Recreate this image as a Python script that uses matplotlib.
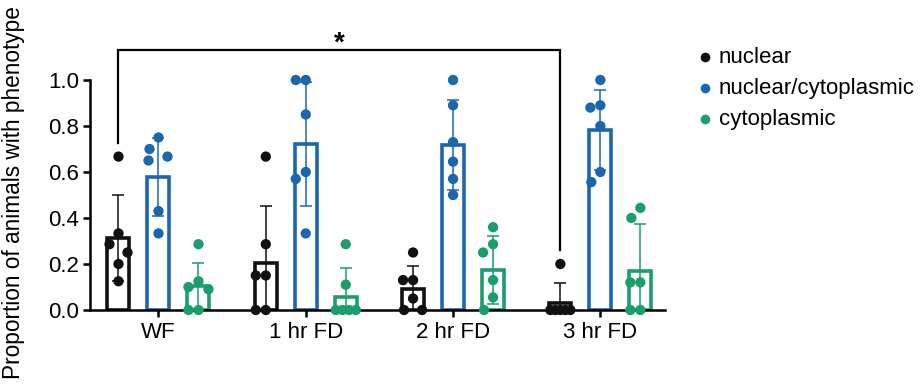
import numpy as np
import matplotlib
matplotlib.use("Agg")
import matplotlib.pyplot as plt

plt.rcParams['font.family'] = ['Liberation Sans', 'DejaVu Sans']

groups = ["WF", "1 hr FD", "2 hr FD", "3 hr FD"]
series = ["nuclear", "nuclear/cytoplasmic", "cytoplasmic"]

# individual animal proportions
nuclear = [
    [0.667, 0.333, 0.286, 0.25, 0.2, 0.125],
    [0.667, 0.286, 0.15, 0.15, 0.0, 0.0],
    [0.25, 0.13, 0.13, 0.05, 0.0, 0.0],
    [0.2, 0.0, 0.0, 0.0, 0.0, 0.0],
]
nuc_cyto = [
    [0.75, 0.7, 0.667, 0.65, 0.43, 0.333],
    [1.0, 1.0, 0.85, 0.6, 0.57, 0.333],
    [1.0, 0.89, 0.73, 0.645, 0.57, 0.5],
    [1.0, 0.89, 0.88, 0.8, 0.6, 0.556],
]
cyto = [
    [0.286, 0.125, 0.1, 0.09, 0.0, 0.0],
    [0.286, 0.11, 0.0, 0.0, 0.0, 0.0],
    [0.36, 0.286, 0.25, 0.13, 0.055, 0.0],
    [0.444, 0.4, 0.12, 0.12, 0.0, 0.0],
]
# bar means and SD
means = [
    [0.312, 0.203, 0.091, 0.029],
    [0.580, 0.722, 0.717, 0.783],
    [0.106, 0.058, 0.174, 0.171],
]
sds = [
    [0.187, 0.250, 0.102, 0.087],
    [0.170, 0.270, 0.196, 0.175],
    [0.100, 0.123, 0.148, 0.202],
]
sig_label = "*"
ylabel = "Proportion of animals with phenotype"

colors = ["#111111", "#1a67ad", "#1a9e6c"]
points = [nuclear, nuc_cyto, cyto]

W, H = 923, 389
fig = plt.figure(figsize=(W / 100, H / 100), dpi=100)
ax = fig.add_axes([90 / W, 1 - 310 / H, (665 - 90) / W, 287.5 / H])

ax.set_xlim(-0.465, 3.439)
ax.set_ylim(0, 1.25)

px_x = 147.3  # pixels per x unit
px_y = 230.0  # pixels per y unit
offs = [-40 / px_x, 0, 40 / px_x]
barw = 22 / px_x


def swarm(vals, d=13.0, step=9.0, maxoff=10.0):
    vals = list(vals)
    order = np.argsort(-np.array(vals), kind="stable")
    placed = []
    res = np.zeros(len(vals))
    for i in order:
        y = vals[i] * px_y
        same = [j for j in range(len(vals)) if abs(vals[j] - vals[i]) < 1e-9]
        if len(same) >= 3:
            k = same.index(i)
            res[i] = np.linspace(-maxoff, maxoff, len(same))[k]
            placed.append((res[i], y))
            continue
        for c in [0, -step, step, -2 * step, 2 * step]:
            if all((c - px) ** 2 + (y - py) ** 2 >= d ** 2 for px, py in placed):
                break
        c = max(-maxoff, min(maxoff, c))
        res[i] = c
        placed.append((c, y))
    return res / px_x


x0 = np.arange(len(groups))
for s in range(3):
    xs = x0 + offs[s]
    ax.bar(xs, means[s], width=barw, facecolor="white", edgecolor=colors[s],
           linewidth=2.6, zorder=2)
    ax.errorbar(xs, means[s], yerr=sds[s], fmt="none", ecolor=colors[s],
                elinewidth=1.1, capsize=4.3, capthick=1.1, zorder=3)
    for g in range(len(groups)):
        v = points[s][g]
        dx = swarm(v)
        ax.scatter(xs[g] + dx, v, s=55, color=colors[s], edgecolors="none",
                   zorder=4, clip_on=False)
    ax.scatter([], [], s=55, color=colors[s], label=series[s])

# significance bracket between WF nuclear and 3 hr FD nuclear
xl, xr = x0[0] + offs[0], x0[3] + offs[0]
ytop = 1.13
ax.plot([xl, xl, xr, xr], [0.726, ytop, ytop, 0.26], color="black", lw=1.6,
        clip_on=False, zorder=5, solid_joinstyle="miter")
ax.text((xl + xr) / 2, 1.158, sig_label, ha="center", va="center",
        fontsize=20, fontweight="bold")

for sp in ["top", "right"]:
    ax.spines[sp].set_visible(False)
for sp in ["left", "bottom"]:
    ax.spines[sp].set_linewidth(1.8)
ax.spines["left"].set_bounds(0, 1.0)
ax.set_yticks(np.arange(0, 1.01, 0.2))
ax.set_yticklabels([f"{t:.1f}" for t in np.arange(0, 1.01, 0.2)])
ax.set_xticks(x0)
ax.set_xticklabels(groups)
ax.tick_params(axis="both", width=1.8, length=5, labelsize=16, direction="out")
ax.tick_params(axis="x", pad=4)
ax.tick_params(axis="y", pad=3)
fig.text(14 / W, 1 - 193 / H, ylabel, rotation=90, ha="center", va="center",
         fontsize=16.3)

leg = ax.legend(loc="upper left", bbox_to_anchor=(692 / W, 1 - 47 / H),
                bbox_transform=fig.transFigure, frameon=False, fontsize=16,
                handletextpad=0.0, labelspacing=0.45, handlelength=1.2,
                markerscale=0.8, borderaxespad=0, borderpad=0)

fig.savefig("out.png", dpi=100)
